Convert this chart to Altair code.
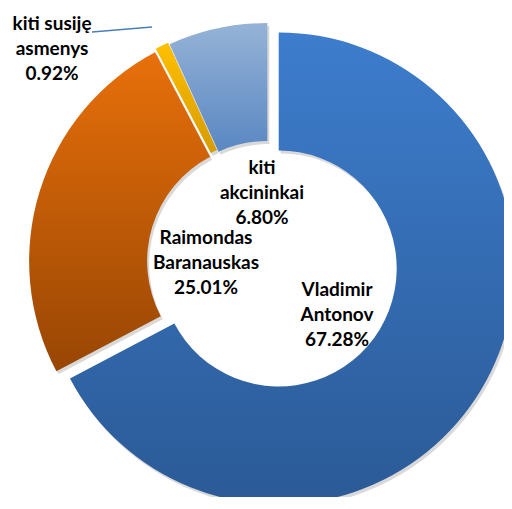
import math
import altair as alt
import pandas as pd

# ---- data ----
names = ["Vladimir\nAntonov", "Raimondas\nBaranauskas", "kiti susiję\nasmenys", "kiti\nakcininkai"]
values = [67.28, 25.01, 0.92, 6.80]

# ---- style ----
EXPLODE = [12.5, 3, 5, 3]
GRADS = [("#3D7DCD", "#2B5A96"), ("#E8700A", "#984604"), ("#FFC000", "#D69B00"), ("#95B3D7", "#5A87C2")]
LABEL_POS = [(69, 28), (-62, -24), (-216, -238), (-6, -94)]
LEADER = (-176, -230, -116, -235)
W, H = 496, 489
CX, CY = 260, 254
R_OUT, R_IN = 236, 118
FONT = "Lato"

df = pd.DataFrame({
    "name": names,
    "value": values,
    "order": list(range(len(names))),
    "explode": EXPLODE,
    "lx": [p[0] for p in LABEL_POS],
    "ly": [p[1] for p in LABEL_POS],
})
df["label"] = [f"{n}\n{v:.2f}%" for n, v in zip(names, values)]

xs = alt.Scale(domain=[-CX, W - CX], range=[0, W])
ys = alt.Scale(domain=[-CY, H - CY], range=[0, H])
ts = alt.Scale(domain=[0, 1], range=[0, 2 * math.pi])

base = (
    alt.Chart(df)
    .transform_window(cum="sum(value)", sort=[alt.SortField("order")], frame=[None, 0])
    .transform_joinaggregate(total="sum(value)")
    .transform_calculate(
        s0="(datum.cum - datum.value) / datum.total",
        s1="datum.cum / datum.total",
        mid="(datum.cum - datum.value / 2) / datum.total * 2 * PI",
    )
    .transform_calculate(
        ox="datum.explode * sin(datum.mid)",
        oy="-datum.explode * cos(datum.mid)",
    )
)

enc = dict(
    x=alt.X("ox:Q", scale=xs, axis=None),
    y=alt.Y("oy:Q", scale=ys, axis=None),
    theta=alt.Theta("s0:Q", scale=ts, stack=False),
    theta2="s1:Q",
)

shadow = base.mark_arc(radius=R_OUT, radius2=R_IN, fill="#000000", fillOpacity=0.15,
                       xOffset=2, yOffset=3).encode(**enc)

layers = [shadow]
for i, n in enumerate(names):
    c0, c1 = GRADS[i]
    grad = {
        "gradient": "linear", "x1": 0, "y1": 0, "x2": 0, "y2": 1,
        "stops": [{"offset": 0, "color": c0}, {"offset": 1, "color": c1}],
    }
    layers.append(
        base.transform_filter(alt.datum.order == i)
        .mark_arc(radius=R_OUT, radius2=R_IN, fill=grad)
        .encode(**enc)
    )

labels = alt.Chart(df).mark_text(
    font=FONT, fontSize=19, fontWeight="bold", color="#000000",
    align="center", baseline="middle", lineBreak="\n", lineHeight=25,
).encode(
    x=alt.X("lx:Q", scale=xs, axis=None),
    y=alt.Y("ly:Q", scale=ys, axis=None),
    text="label:N",
)

leader_df = pd.DataFrame({"x": [LEADER[0]], "y": [LEADER[1]], "x2": [LEADER[2]], "y2": [LEADER[3]]})
leader = alt.Chart(leader_df).mark_rule(color="#4A7EBB", strokeWidth=1.5).encode(
    x=alt.X("x:Q", scale=xs, axis=None),
    y=alt.Y("y:Q", scale=ys, axis=None),
    x2="x2:Q",
    y2="y2:Q",
)

chart = (
    alt.layer(*layers, leader, labels)
    .properties(width=W, height=H, padding=0, autosize=alt.AutoSizeParams(type="none"))
    .configure_view(stroke=None)
)

chart.save("out.html", embed_options={"renderer": "svg", "actions": False})
